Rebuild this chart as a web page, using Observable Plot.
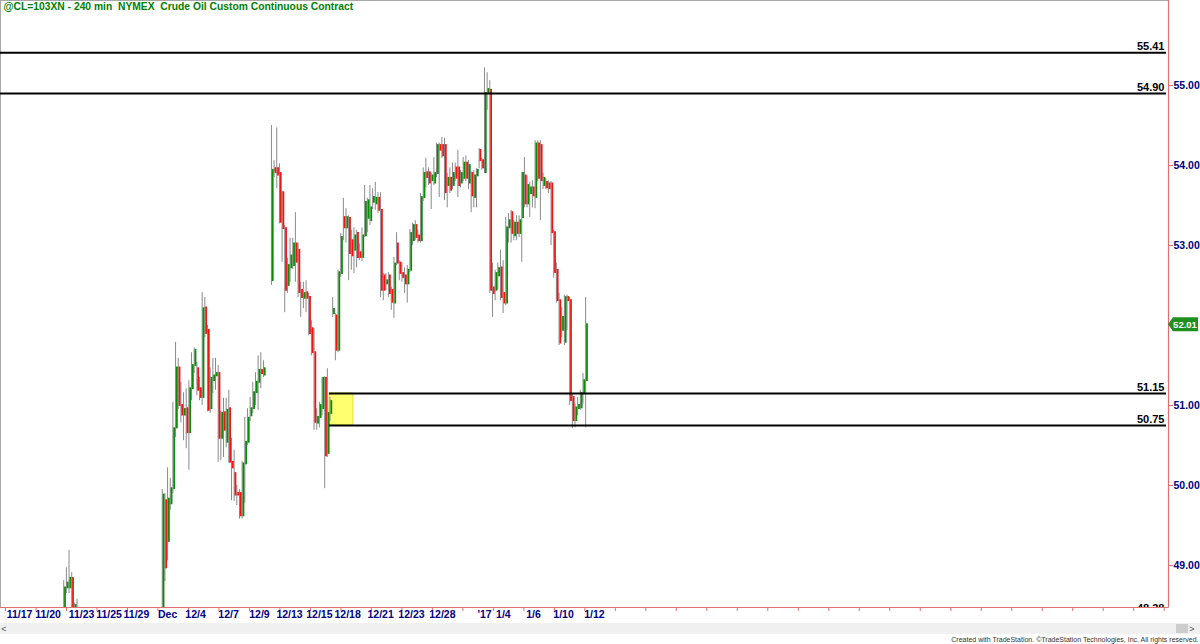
<!DOCTYPE html>
<html><head><meta charset="utf-8">
<script src="https://cdn.jsdelivr.net/npm/d3@7"></script>
<script src="https://cdn.jsdelivr.net/npm/@observablehq/plot@0.6"></script>
<style>
body{margin:0;background:#fff;}
#wrap{position:relative;width:1200px;height:644px;overflow:hidden;font-family:"Liberation Sans",Arial,sans-serif;}
</style></head><body><div id="wrap"></div>
<script>
const title = "@CL=103XN - 240 min\u00a0\u00a0NYMEX\u00a0\u00a0Crude Oil Custom Continuous Contract";
const credit = "Created with TradeStation. \u00a9TradeStation Technologies, Inc. All rights reserved.";

// 240-minute bars; slot = bar number since the 11/17 open
const novStart = 21;
const novOpen  = [48.35, 48.72, 48.72, 48.84, 48.45, 48.40];
const novHigh  = [48.81, 48.97, 49.19, 48.91, 48.53, 48.58];
const novLow   = [48.30, 48.65, 48.65, 48.30, 48.30, 48.30];
const novClose = [48.72, 48.78, 48.84, 48.43, 48.50, 48.45];

// Dec 1 -> Jan 11, three contiguous runs of bars
const runStarts = [58, 99, 122];
const runLengths = [39, 23, 96];
const open = [
 48.40,49.81,49.30,49.77,49.96,50.72,51.47,51.00,50.88,50.96,50.66,51.21,51.50,51.46,51.21,51.10,52.22,51.94,50.96,51.31,
 51.37,51.40,50.59,50.91,50.54,50.96,50.29,50.15,49.90,49.90,49.62,50.27,50.54,50.87,50.96,51.16,51.29,51.44,51.38,
 52.56,53.96,53.96,53.90,53.66,53.21,52.50,52.72,52.75,53.02,52.94,52.44,52.34,52.41,52.35,51.96,51.66,50.78,50.85,50.96,
 51.34,50.40,50.90,
 52.15,52.12,51.69,52.65,53.35,53.22,53.34,53.06,52.94,53.15,52.91,52.85,53.12,53.34,53.31,53.54,53.52,53.59,53.44,52.62,
 52.52,52.62,52.44,52.28,53.02,52.78,52.65,52.62,52.52,52.69,53.06,53.25,53.12,53.06,53.60,53.91,53.91,53.81,53.78,53.90,
 54.25,54.25,54.25,53.75,53.84,53.75,53.97,53.97,53.78,53.84,54.03,53.78,53.90,53.60,53.87,54.19,54.06,53.91,54.90,54.94,
 52.47,52.44,52.62,52.72,52.40,52.28,53.22,53.41,53.12,53.28,53.15,53.35,53.87,53.52,53.65,53.72,53.60,54.27,54.25,53.75,
 53.79,53.77,53.77,53.16,52.69,52.31,51.94,51.79,52.35,52.31,51.10,50.81,50.96,50.97,51.15,51.31];
const high = [
 49.95,49.90,50.22,50.09,51.04,51.79,51.59,51.29,51.16,51.21,51.31,51.66,51.72,51.54,51.35,52.41,52.35,52.00,51.47,51.59,
 51.59,51.50,50.93,51.09,51.09,51.19,50.59,50.44,50.00,49.95,50.30,50.85,50.96,51.10,51.29,51.41,51.62,51.66,51.56,
 54.50,54.06,54.47,54.02,53.68,53.25,52.84,53.09,53.09,53.41,53.03,52.54,52.54,52.56,52.40,52.06,51.96,50.96,51.04,51.35,
 51.36,51.46,51.10,
 52.35,52.15,52.69,53.15,53.59,53.46,53.37,53.19,53.22,53.19,53.02,53.22,53.75,53.59,53.75,53.71,53.79,53.66,53.66,52.65,
 52.65,52.66,52.48,52.85,53.16,52.81,52.78,52.72,52.75,53.20,53.28,53.31,53.19,53.65,53.97,54.09,53.97,53.90,54.10,54.28,
 54.28,54.35,54.34,53.90,53.97,54.03,54.03,54.19,53.94,54.10,54.12,54.06,53.92,53.94,53.96,54.21,54.09,55.22,55.16,55.06,
 52.78,52.69,52.78,52.94,52.81,53.35,53.40,53.44,53.31,53.37,53.37,53.91,54.10,53.87,53.79,53.81,54.31,54.31,54.31,53.90,
 53.84,53.81,53.80,53.19,52.78,52.40,52.22,52.38,52.38,52.35,51.15,51.02,51.10,51.19,51.40,52.35];
const low = [
 48.30,48.80,49.06,49.69,49.90,50.60,50.95,50.78,50.56,50.46,50.19,51.06,51.40,51.12,51.06,51.00,51.85,50.92,50.90,51.15,
 51.19,50.29,50.31,50.35,50.47,50.28,49.81,49.80,49.75,49.58,49.58,49.78,50.50,50.80,50.90,51.00,50.94,51.21,51.35,
 52.50,53.85,53.71,53.27,52.79,52.16,52.40,52.54,52.70,52.54,52.35,52.10,52.21,52.16,51.87,51.62,50.69,50.69,50.72,50.87,
 49.96,50.35,50.80,
 52.10,51.56,51.66,52.60,53.06,53.03,52.56,52.69,52.65,52.72,52.81,52.80,53.10,53.16,53.25,53.45,53.44,53.40,52.35,52.31,
 52.44,52.35,52.19,52.09,52.75,52.56,52.54,52.40,52.28,52.66,53.00,53.06,53.03,53.03,53.55,53.72,53.75,53.45,53.75,53.85,
 53.60,54.09,53.56,53.47,53.65,53.70,53.80,53.60,53.72,53.80,53.80,53.70,53.41,53.47,53.47,53.96,53.94,53.90,54.69,52.40,
 52.10,52.31,52.44,52.31,52.15,52.25,53.03,53.03,53.06,53.06,53.10,52.79,53.47,53.47,53.35,53.47,53.46,53.80,53.31,53.70,
 53.70,53.65,53.00,52.59,52.28,51.75,51.85,51.75,51.94,51.00,50.71,50.72,50.87,50.94,51.02,50.72];
const close = [
 49.88,48.97,49.83,49.96,50.71,51.47,51.00,50.88,50.95,50.66,51.21,51.50,51.69,51.19,51.10,52.21,51.90,50.94,51.34,51.37,
 51.40,50.59,50.90,50.69,50.94,50.29,50.22,49.88,49.88,49.62,50.27,50.54,50.84,50.96,51.16,51.29,51.44,51.40,51.46,
 53.94,53.91,53.88,53.29,53.21,52.44,52.75,52.87,53.02,52.79,52.41,52.35,52.40,52.34,51.90,51.66,50.79,50.85,51.00,51.34,
 50.37,50.90,51.05,
 52.20,51.69,52.66,53.10,53.22,53.35,52.90,52.87,53.12,52.85,52.85,53.12,53.54,53.56,53.47,53.60,53.59,53.44,52.44,52.44,
 52.56,52.40,52.29,52.77,52.78,52.65,52.60,52.52,52.69,53.15,53.25,53.10,53.06,53.60,53.90,53.85,53.78,53.87,53.90,54.25,
 54.19,54.12,53.66,53.84,53.69,53.90,53.84,53.75,53.90,54.03,53.84,54.00,53.62,53.87,53.94,54.06,53.97,54.90,54.95,52.44,
 52.40,52.65,52.71,52.35,52.28,53.22,53.31,53.15,53.28,53.15,53.31,53.90,53.52,53.75,53.72,53.62,54.27,53.84,53.81,53.84,
 53.72,53.71,53.16,52.66,52.31,51.78,52.10,52.35,52.31,51.06,50.81,50.97,51.00,51.15,51.31,52.01];

// horizontal levels
const levels = [55.41, 54.90, 51.15, 50.75];
const levelFromZone = [false, false, true, true];
const zoneSlots = [120.5, 129.5];
const zonePrices = [50.75, 51.15];
const offChartLevel = 48.38;

// axes
const priceTicks = [49, 50, 51, 53, 54, 55];
const dateLabels = ["11/17","11/20","11/23","11/25","11/29","Dec","12/4","12/7","12/9","12/13","12/15","12/18","12/21","12/23","12/28","'17","1/4","1/6","1/10","1/12"];
const dateSlots  = [4.1,14.8,27.4,37.7,48.0,59.7,70.2,82.6,94.2,105.5,116.7,127.3,139.7,151.3,162.9,178.7,185.8,197.1,208.4,220.0];

const xDomain = [-3.04, 435.56];
const yDomain = [48.475, 56.0625];
const lineEnd = 434.8;

const runSlot = [];
runStarts.forEach((s, r) => { for (let k = 0; k < runLengths[r]; k++) runSlot.push(s + k); });
const bars = [
  ...novOpen.map((o, k) => ({slot: novStart + k, o, h: novHigh[k], l: novLow[k], c: novClose[k]})),
  ...open.map((o, k) => ({slot: runSlot[k], o, h: high[k], l: low[k], c: close[k]}))
];
const levelRows = levels.map((v, k) => ({v, x1: levelFromZone[k] ? zoneSlots[0] : xDomain[0], x2: lineEnd}));
const GREEN = "#0c8a0c", RED = "#f01414", AXIS = "#e07070", NAVY = "#000080";
const tickSlots = d3.range(-1.16, xDomain[1], 11.45);
const font = "Liberation Sans, Arial, sans-serif";

const chart = Plot.plot({
  width: 1200, height: 644,
  marginLeft: 0, marginRight: 32, marginTop: 0, marginBottom: 37,
  style: {fontFamily: font, background: "#fff", overflow: "visible"},
  x: {domain: xDomain, axis: null},
  y: {domain: yDomain, axis: null},
  marks: [
    Plot.frame({stroke: "#a8a8a8"}),
    Plot.rect([0], {x1: () => zoneSlots[0], x2: () => zoneSlots[1], y1: () => zonePrices[0], y2: () => zonePrices[1], fill: "#ffff70", stroke: "#e0e040"}),
    Plot.ruleX(bars, {x: "slot", y1: "l", y2: "h", stroke: "#8a8a8a", strokeWidth: 1, dx: -0.8, clip: true}),
    Plot.ruleX(bars, {x: "slot", y1: "o", y2: "c", stroke: d => d.c >= d.o ? GREEN : RED, strokeWidth: 1.8, dx: 0.5, strokeLinecap: "square", clip: true}),
    Plot.ruleY(levelRows, {y: "v", x1: "x1", x2: "x2", stroke: "#000", strokeWidth: 2}),
    Plot.text(levelRows, {x: "x2", y: "v", text: d => d.v.toFixed(2), textAnchor: "end", lineAnchor: "bottom", dx: -2, dy: -3, fontWeight: "bold", fontSize: 11, fill: "#000"}),
    Plot.text([offChartLevel], {x: lineEnd, y: d => d, text: d => d.toFixed(2), textAnchor: "end", lineAnchor: "bottom", dx: -2, dy: -3, fontWeight: "bold", fontSize: 11, fill: "#000", clip: true}),
    Plot.ruleX([xDomain[1]], {stroke: AXIS, strokeWidth: 1.2}),
    Plot.ruleY([yDomain[0]], {stroke: AXIS, strokeWidth: 1.2}),
    Plot.axisY(priceTicks, {anchor: "right", tickSize: 4, tickPadding: 1, tickFormat: d => d.toFixed(2), stroke: AXIS, fill: NAVY, fontWeight: "bold", fontSize: 10.5}),
    Plot.axisX(tickSlots, {anchor: "bottom", tickSize: 4, tickFormat: () => "", stroke: AXIS}),
    Plot.text(dateLabels, {x: (d, k) => dateSlots[k], frameAnchor: "bottom", dy: 10, text: d => d, fill: NAVY, fontWeight: "bold", fontSize: 10.5}),
    Plot.text([title], {frameAnchor: "top-left", dx: 3, dy: 2.5, lineAnchor: "top", text: d => d, fill: "#008000", fontWeight: "bold", fontSize: 10.3}),
    Plot.text([credit], {frameAnchor: "bottom-right", dx: 30, dy: 34, textAnchor: "end", text: d => d, fill: "#333", fontSize: 7})
  ]
});
document.getElementById("wrap").appendChild(chart);

// scrollbar strip and last-price tag, placed with the chart's own scales
const svg = d3.select(chart);
const ys = chart.scale("y"), xs = chart.scale("x");
const xR = xs.apply(xDomain[1]);
const yB = ys.apply(yDomain[0]);
const strip = svg.insert("g", ":first-child");
strip.append("rect").attr("x", 0).attr("y", yB + 16).attr("width", 1200).attr("height", 11).attr("fill", "#f0f0f0");
strip.append("rect").attr("x", 1176).attr("y", yB + 17).attr("width", 12).attr("height", 9).attr("fill", "#cdcdcd");
svg.append("text").attr("x", 4).attr("y", yB + 25).attr("font-size", 9).attr("fill", "#555").text("<");
svg.append("text").attr("x", 1192).attr("y", yB + 25).attr("font-size", 9).attr("fill", "#555").text(">");
const lastClose = close[close.length - 1];
const yl = ys.apply(lastClose);
svg.append("path")
  .attr("d", `M${xR},${yl} L${xR + 5},${yl - 7} L${xR + 30},${yl - 7} L${xR + 30},${yl + 7} L${xR + 5},${yl + 7} Z`)
  .attr("fill", "#1f8f1f");
svg.append("text").attr("x", xR + 17).attr("y", yl).attr("dy", "0.35em").attr("text-anchor", "middle")
  .attr("font-size", 9.5).attr("font-weight", "bold").attr("fill", "#fff").attr("font-family", font).text(lastClose.toFixed(2));
</script></body></html>
